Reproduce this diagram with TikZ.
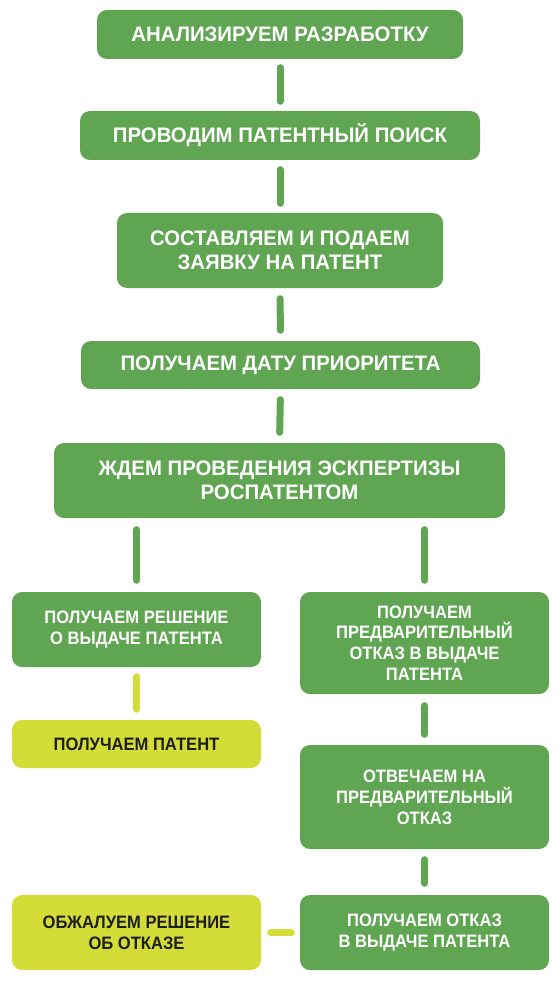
\documentclass[tikz,border=0pt]{standalone}
\usepackage{fontspec}
\setmainfont{Liberation Sans}
\newfontfamily\narrowfont{Liberation Sans}[FakeStretch=0.92]
\newfontfamily\topfont{Liberation Sans}[FakeStretch=0.97]
\definecolor{boxgreen}{RGB}{95,165,82}
\definecolor{boxyellow}{RGB}{212,221,55}
\definecolor{darktext}{RGB}{30,30,30}
\tikzset{
  gbox/.style={fill=boxgreen, text=white, rounded corners=10pt, align=center, inner sep=0pt},
  ybox/.style={fill=boxyellow, text=darktext, rounded corners=10pt, align=center, inner sep=0pt},
  bigtxt/.style={font=\topfont\fontsize{21}{24.5}\selectfont\bfseries},
  smalltxt/.style={font=\narrowfont\fontsize{18}{20.8}\selectfont\bfseries},
  gline/.style={draw=boxgreen, line width=7pt, line cap=round},
  yline/.style={draw=boxyellow, line width=7pt, line cap=round},
}
\begin{document}
\begin{tikzpicture}[x=1pt,y=-1pt]
\useasboundingbox (0,0) rectangle (559,981);
\node[gbox,bigtxt,minimum width=366pt,minimum height=49pt] (b1) at (280,34.5) {АНАЛИЗИРУЕМ РАЗРАБОТКУ};
\node[gbox,bigtxt,minimum width=400pt,minimum height=49pt] (b2) at (280,135.5) {ПРОВОДИМ ПАТЕНТНЫЙ ПОИСК};
\node[gbox,bigtxt,minimum width=326pt,minimum height=75pt] (b3) at (280,250.5) {СОСТАВЛЯЕМ И ПОДАЕМ\\ЗАЯВКУ НА ПАТЕНТ};
\node[gbox,bigtxt,minimum width=399pt,minimum height=48pt] (b4) at (280.5,365) {ПОЛУЧАЕМ ДАТУ ПРИОРИТЕТА};
\node[gbox,bigtxt,minimum width=451pt,minimum height=75pt] (b5) at (279.5,480.5) {ЖДЕМ ПРОВЕДЕНИЯ ЭСКПЕРТИЗЫ\\РОСПАТЕНТОМ};
\node[gbox,smalltxt,minimum width=249pt,minimum height=75pt] (l1) at (136.5,629.5) {ПОЛУЧАЕМ РЕШЕНИЕ\\О ВЫДАЧЕ ПАТЕНТА};
\node[gbox,smalltxt,minimum width=249pt,minimum height=102pt] (r1) at (424.5,643) {ПОЛУЧАЕМ\\ПРЕДВАРИТЕЛЬНЫЙ\\ОТКАЗ В ВЫДАЧЕ\\ПАТЕНТА};
\node[ybox,smalltxt,minimum width=249pt,minimum height=48pt] (l2) at (136.5,744) {ПОЛУЧАЕМ ПАТЕНТ};
\node[gbox,smalltxt,minimum width=249pt,minimum height=104pt] (r2) at (424.5,797) {ОТВЕЧАЕМ НА\\ПРЕДВАРИТЕЛЬНЫЙ\\ОТКАЗ};
\node[ybox,smalltxt,minimum width=249pt,minimum height=75pt] (l3) at (136.5,932.5) {ОБЖАЛУЕМ РЕШЕНИЕ\\ОБ ОТКАЗЕ};
\node[gbox,smalltxt,minimum width=249pt,minimum height=75pt] (r3) at (424.5,932.5) {ПОЛУЧАЕМ ОТКАЗ\\В ВЫДАЧЕ ПАТЕНТА};
% connectors
\draw[gline,shorten <=8.5pt,shorten >=9.5pt] (b1.south) -- (b2.north);
\draw[gline,shorten <=9.5pt,shorten >=9.5pt] (b2.south) -- (b3.north);
\draw[gline,shorten <=10.5pt,shorten >=10.5pt] (b3.south) -- (b4.north);
\draw[gline,shorten <=10.5pt,shorten >=10.5pt] (b4.south) -- (b5.north);
\draw[gline,shorten <=11.5pt,shorten >=11.5pt] (l1.north |- b5.south) -- (l1.north);
\draw[gline,shorten <=11.5pt,shorten >=11.5pt] (r1.north |- b5.south) -- (r1.north);
\draw[yline,shorten <=9.5pt,shorten >=10.5pt] (l1.south) -- (l2.north);
\draw[gline,shorten <=11.5pt,shorten >=10.5pt] (r1.south) -- (r2.north);
\draw[gline,shorten <=10.5pt,shorten >=11.5pt] (r2.south) -- (r3.north);
\draw[yline,shorten <=9.5pt,shorten >=8.5pt] (l3.east) -- (r3.west);
\end{tikzpicture}
\end{document}
